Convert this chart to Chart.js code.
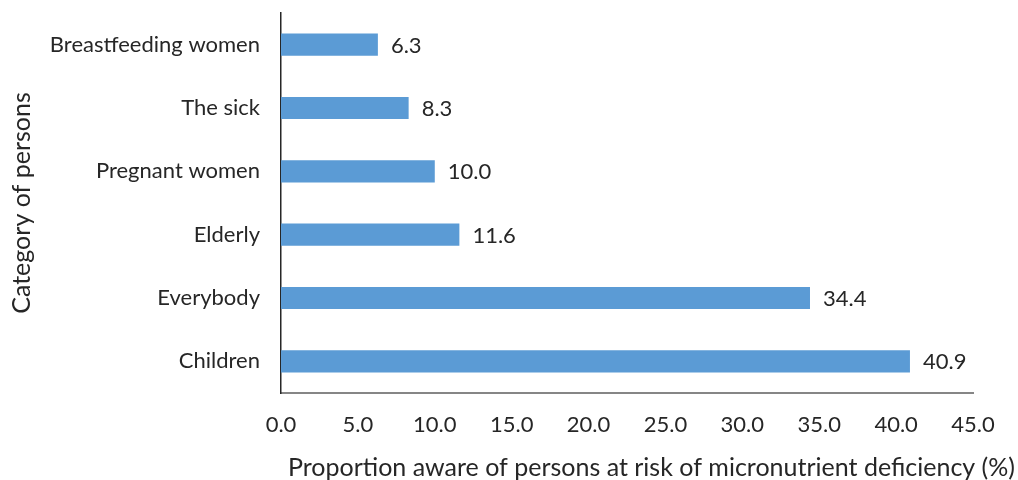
<!DOCTYPE html>
<html>
<head>
<meta charset="utf-8">
<script src="https://cdn.jsdelivr.net/npm/chart.js@4.4.1/dist/chart.umd.min.js"></script>
<style>
  html, body { margin: 0; padding: 0; background: #ffffff; }
  #wrap { width: 1018px; height: 480px; position: relative; }
</style>
</head>
<body>
<div id="wrap"><canvas id="chart"></canvas></div>
<script>
// Categories of persons, listed top to bottom
const categories = ['Breastfeeding women', 'The sick', 'Pregnant women', 'Elderly', 'Everybody', 'Children'];
// Proportion (%) aware that each category is at risk
const proportions = [6.3, 8.3, 10.0, 11.6, 34.4, 40.9];
// Axis range and tick step
const xMin = 0;
const xMax = 45;
const xStep = 5;

const FONT = 'Lato, "Liberation Sans", sans-serif';
const TEXT = '#262626';

// Value labels printed just after the end of each bar
const valueLabels = {
  id: 'valueLabels',
  afterDatasetsDraw(chart) {
    const { ctx } = chart;
    const meta = chart.getDatasetMeta(0);
    ctx.save();
    ctx.font = '22px ' + FONT;
    ctx.fillStyle = TEXT;
    ctx.textAlign = 'left';
    ctx.textBaseline = 'middle';
    meta.data.forEach((bar, i) => {
      ctx.fillText(proportions[i].toFixed(1), bar.x + 13, bar.y + 1);
    });
    ctx.restore();
  }
};

new Chart(document.getElementById('chart'), {
  type: 'bar',
  data: {
    labels: categories,
    datasets: [{
      data: proportions,
      backgroundColor: '#5B9BD5',
      borderWidth: 0,
      barPercentage: 0.7,
      categoryPercentage: 0.5
    }]
  },
  options: {
    indexAxis: 'y',
    responsive: true,
    maintainAspectRatio: false,
    animation: false,
    layout: { padding: { top: 13, right: 3, left: 0, bottom: 0 } },
    plugins: {
      legend: { display: false },
      tooltip: { enabled: false },
      title: {
        display: true,
        position: 'bottom',
        align: 'end',
        text: 'Proportion aware of persons at risk of micronutrient deficiency (%)',
        color: TEXT,
        font: { family: FONT, size: 25, weight: 'normal', lineHeight: 1 },
        padding: { top: 17, bottom: 0 }
      }
    },
    scales: {
      x: {
        min: xMin,
        max: xMax,
        ticks: {
          stepSize: xStep,
          color: TEXT,
          font: { family: FONT, size: 22 },
          padding: 19,
          callback: (v) => Number(v).toFixed(1)
        },
        grid: { display: false, drawTicks: false },
        border: { display: true, color: '#868686', width: 2 },
        afterFit(scale) {
          scale.height = 45;
          scale.paddingRight = 45;
        }
      },
      y: {
        ticks: {
          color: TEXT,
          font: { family: FONT, size: 22 },
          padding: 21
        },
        grid: { display: false, drawTicks: false },
        border: { display: true, color: '#262626', width: 1.5 },
        title: {
          display: true,
          text: 'Category of persons',
          color: TEXT,
          font: { family: FONT, size: 25, weight: 'normal' },
          padding: { top: 7, bottom: 0 }
        },
        afterFit(scale) {
          scale.width = 281;
          scale.paddingTop = 0;
          scale.paddingBottom = 0;
        }
      }
    }
  },
  plugins: [valueLabels]
});
</script>
</body>
</html>
